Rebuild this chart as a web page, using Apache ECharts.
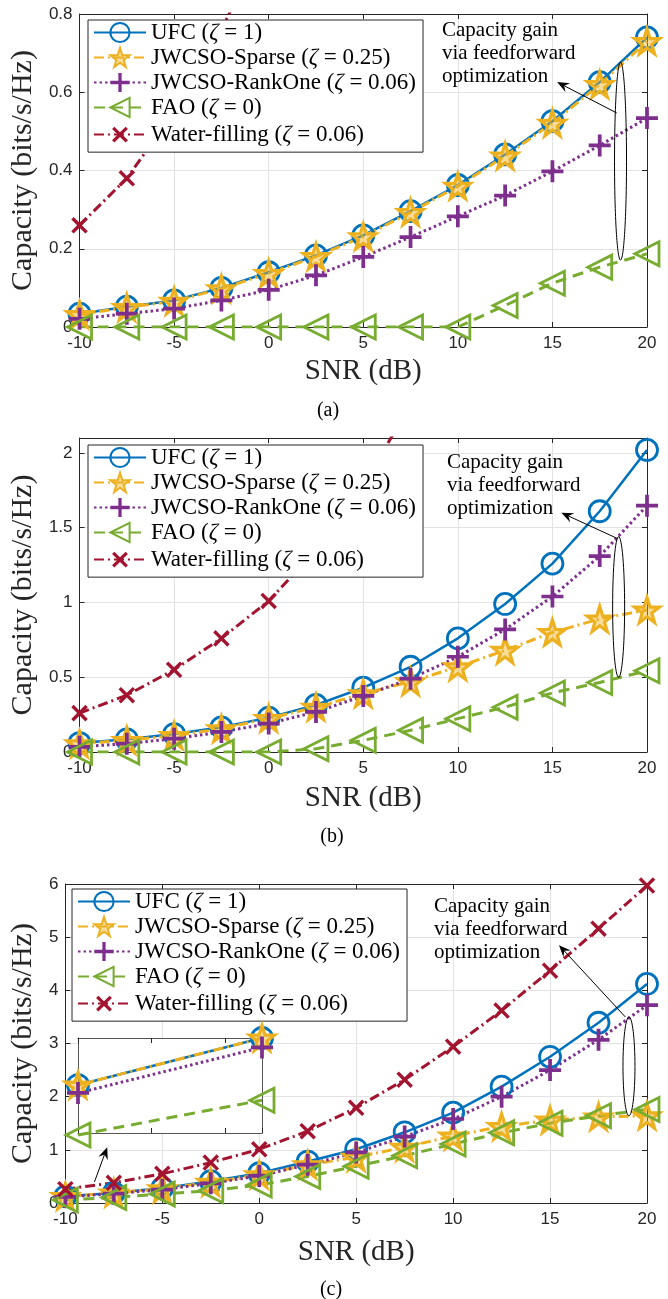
<!DOCTYPE html>
<html><head><meta charset="utf-8">
<script src="https://cdn.jsdelivr.net/npm/echarts@6/dist/echarts.min.js"></script>
<style>html,body{margin:0;padding:0;background:#fff}#c{width:668px;height:1299px}</style>
</head><body><div id="c"></div><script>
// ---------------- data ----------------
const snr = [-10, -7.5, -5, -2.5, 0, 2.5, 5, 7.5, 10, 12.5, 15, 17.5, 20];
const seriesNames = ['UFC (ζ = 1)', 'JWCSO-Sparse (ζ = 0.25)', 'JWCSO-RankOne (ζ = 0.06)', 'FAO (ζ = 0)', 'Water-filling (ζ = 0.06)'];
const waterFilling = [0.26, 0.38, 0.55, 0.76, 1.01, 1.35, 1.79, 2.32, 2.94, 3.62, 4.37, 5.16, 5.97];
// (a)
const ufcA     = [0.034, 0.052, 0.068, 0.100, 0.140, 0.183, 0.234, 0.296, 0.363, 0.441, 0.526, 0.626, 0.740];
const sparseA  = [0.032, 0.050, 0.066, 0.098, 0.137, 0.180, 0.231, 0.293, 0.360, 0.437, 0.521, 0.620, 0.730];
const rankOneA = [0.021, 0.034, 0.047, 0.068, 0.095, 0.132, 0.179, 0.230, 0.283, 0.336, 0.398, 0.464, 0.534];
const faoA     = [0, 0, 0, 0, 0, 0, 0, 0, 0, 0.055, 0.112, 0.153, 0.187];
// (b)
const ufcB     = [0.060, 0.085, 0.120, 0.165, 0.230, 0.315, 0.430, 0.570, 0.760, 0.990, 1.260, 1.610, 2.020];
const sparseB  = [0.055, 0.078, 0.110, 0.155, 0.225, 0.300, 0.390, 0.470, 0.570, 0.680, 0.800, 0.890, 0.950];
const rankOneB = [0.035, 0.056, 0.089, 0.134, 0.190, 0.268, 0.375, 0.490, 0.637, 0.820, 1.040, 1.310, 1.647];
const faoB     = [0, 0, 0, 0, 0, 0.022, 0.078, 0.145, 0.223, 0.300, 0.395, 0.465, 0.543];
// (c)
const ufcC     = [0.125, 0.190, 0.280, 0.410, 0.560, 0.780, 1.010, 1.330, 1.700, 2.190, 2.750, 3.390, 4.120];
const sparseC  = [0.125, 0.190, 0.270, 0.390, 0.530, 0.720, 0.860, 1.050, 1.260, 1.440, 1.560, 1.620, 1.640];
const rankOneC = [0.114, 0.177, 0.250, 0.370, 0.510, 0.720, 0.950, 1.250, 1.580, 2.000, 2.500, 3.070, 3.720];
const faoC     = [0.056, 0.104, 0.170, 0.230, 0.340, 0.500, 0.690, 0.890, 1.110, 1.320, 1.500, 1.640, 1.760];
// axes
const xRange = [-10, 20], xStep = 5;
const yMaxes = [0.8, 2.1, 6];
const ySteps = [0.2, 0.5, 1];
const insetX = [-10, -7.5];
const insetY = [0.0587, 0.19];
const captions = ['(a)', '(b)', '(c)'];
// annotations (data coordinates)
const gainEllipse = [[18.6, 0.171, 0.677], [18.5, 0.50, 1.44], [19.07, 1.64, 3.50]];
const gainArrow = [[18.4, 0.547, 15.25, 0.626], [18.4, 1.43, 15.47, 1.60], [18.88, 3.50, 15.46, 4.85]];
const insetArrow = [-8.5, 0.395, -7.84, 1.05];

// ---------------- style ----------------
const axisColor = '#262626', gridColor = '#e3e3e3';
const serif = 'Liberation Serif', sans = 'Liberation Sans';
const STAR = 'path://M50,0 L61.8,35.1 L98.5,35.1 L68.8,57 L79.4,91 L50,70 L20.6,91 L31.2,57 L1.5,35.1 L38.2,35.1 Z';
const PLUS = 'path://M8.3,0H11.7V8.3H20V11.7H11.7V20H8.3V11.7H0V8.3H8.3Z';
const styles = [
  {c: '#0072BD', dash: 'solid', w: 2.5, symbol: 'circle', size: 21, rot: 0, fill: 'rgba(0,0,0,0)', bw: 2.8},
  {c: '#EDB120', dash: [10, 4, 2, 4], w: 3, symbol: STAR, size: 25, rot: 0, fill: 'rgba(237,177,32,0.45)', bw: 3.2},
  {c: '#7E2F8E', dash: [2.5, 3], w: 3, symbol: PLUS, size: 22, rot: 0, fill: '#7E2F8E', bw: 0},
  {c: '#77AC30', dash: [11, 7], w: 3, symbol: 'triangle', size: 24, rot: 90, fill: 'rgba(0,0,0,0)', bw: 2.8},
  {c: '#A2142F', dash: [10, 4, 2, 4], w: 3, symbol: PLUS, size: 20, rot: 45, fill: '#A2142F', bw: 0}
];
const grids = [
  {left: 77, top: 14, width: 570, height: 313, nameGapX: 30, nameGapY: 37},
  {left: 77, top: 438, width: 570, height: 314, nameGapX: 32, nameGapY: 39},
  {left: 65, top: 884, width: 582, height: 319, nameGapX: 35, nameGapY: 25}
];
const legendPos = [[88, 20], [88, 445], [72, 889]];

const xAxes = [], yAxes = [], seriesList = [], legends = [];
function baseAxis(extra) {
  return Object.assign({
    type: 'value',
    axisLine: {show: true, onZero: false, lineStyle: {color: axisColor, width: 1}},
    axisTick: {show: true, inside: true, length: 5, lineStyle: {color: axisColor}},
    axisLabel: {show: false},
    splitLine: {show: false}
  }, extra);
}
grids.forEach((g, i) => {
  xAxes.push(baseAxis({gridIndex: i, position: 'bottom', min: xRange[0], max: xRange[1], interval: xStep,
    axisLabel: {show: true, fontFamily: sans, fontSize: 17, color: axisColor, margin: 8},
    splitLine: {show: true, lineStyle: {color: gridColor}},
    name: 'SNR (dB)', nameLocation: 'middle', nameGap: g.nameGapX,
    nameTextStyle: {fontFamily: serif, fontSize: 29, color: axisColor}}));
  xAxes.push(baseAxis({gridIndex: i, position: 'top', min: xRange[0], max: xRange[1], interval: xStep}));
  const step = ySteps[i];
  yAxes.push(baseAxis({gridIndex: i, position: 'left', min: 0, max: yMaxes[i], interval: step,
    axisLabel: {show: true, fontFamily: sans, fontSize: 17, color: axisColor, margin: 7,
      formatter: v => (Math.abs(v / step - Math.round(v / step)) < 1e-6 ? String(+v.toFixed(2)) : '')},
    splitLine: {show: true, lineStyle: {color: gridColor}},
    name: 'Capacity (bits/s/Hz)', nameLocation: 'middle', nameGap: g.nameGapY, nameRotate: 90,
    nameTextStyle: {fontFamily: serif, fontSize: 30, color: axisColor}}));
  yAxes.push(baseAxis({gridIndex: i, position: 'right', min: 0, max: yMaxes[i], interval: step}));
  legends.push({
    orient: 'vertical', left: legendPos[i][0], top: legendPos[i][1],
    itemWidth: 52, itemHeight: 24, itemGap: 2, padding: [1, 7, 4, 5],
    borderColor: axisColor, borderWidth: 1, backgroundColor: '#fff',
    selectedMode: false, data: seriesNames,
    formatter: n => n.replace('ζ', '{z|ζ}'),
    textStyle: {fontFamily: serif, fontSize: 23, color: '#000',
      rich: {z: {fontFamily: serif, fontSize: 23, fontStyle: 'italic', color: '#000'}}}
  });
});
// inset axes (index 6 / 7)
xAxes.push(baseAxis({gridIndex: 3, position: 'bottom', min: insetX[0], max: insetX[1], interval: 1, z: 6,
  axisLine: {show: true, onZero: false, lineStyle: {color: '#555', width: 1}}}));
xAxes.push(baseAxis({gridIndex: 3, position: 'top', min: insetX[0], max: insetX[1], interval: 1, z: 6,
  axisLine: {show: true, onZero: false, lineStyle: {color: '#555', width: 1}}}));
yAxes.push(baseAxis({gridIndex: 3, position: 'left', min: insetY[0], max: insetY[1], z: 6,
  axisLine: {show: true, onZero: false, lineStyle: {color: '#555', width: 1}}, axisTick: {show: false}}));
yAxes.push(baseAxis({gridIndex: 3, position: 'right', min: insetY[0], max: insetY[1], z: 6,
  axisLine: {show: true, onZero: false, lineStyle: {color: '#555', width: 1}}, axisTick: {show: false}}));

function makeSeries(k, axisIdx, xs, ys, extra) {
  const s = styles[k];
  return Object.assign({
    type: 'line', name: seriesNames[k], xAxisIndex: axisIdx, yAxisIndex: axisIdx,
    data: xs.map((x, j) => [x, ys[j]]),
    symbol: s.symbol, symbolSize: s.size, symbolRotate: s.rot, showAllSymbol: true,
    lineStyle: {color: s.c, width: s.w, type: s.dash},
    itemStyle: {color: s.fill, borderColor: s.c, borderWidth: s.bw},
    emphasis: {disabled: true}, silent: true
  }, extra || {});
}
const dataSets = [
  [ufcA, sparseA, rankOneA, faoA, waterFilling],
  [ufcB, sparseB, rankOneB, faoB, waterFilling],
  [ufcC, sparseC, rankOneC, faoC, waterFilling]
];
dataSets.forEach((set, g) => set.forEach((ys, k) => seriesList.push(makeSeries(k, 2 * g, snr, ys))));
[ufcC, sparseC, rankOneC, faoC].forEach((ys, k) =>
  seriesList.push(makeSeries(k, 6, snr.slice(0, 2), ys.slice(0, 2), {clip: false, z: 7})));

const option = {
  animation: false,
  backgroundColor: '#fff',
  grid: grids.map(g => ({left: g.left, top: g.top, width: g.width, height: g.height}))
    .concat([{left: 78, top: 1038, width: 184, height: 95, show: true, backgroundColor: '#fff', borderWidth: 0, z: 5}]),
  xAxis: xAxes, yAxis: yAxes, legend: legends, series: seriesList
};
const chart = echarts.init(document.getElementById('c'), null, {renderer: 'canvas'});
chart.setOption(option);

// ---------------- annotations ----------------
const P = (ai, x, y) => chart.convertToPixel({xAxisIndex: ai, yAxisIndex: ai}, [x, y]);
function arrow(p0, p1) {
  const dx = p1[0] - p0[0], dy = p1[1] - p0[1], L = Math.hypot(dx, dy);
  const ux = dx / L, uy = dy / L, nx = -uy, ny = ux, hl = 12, hw = 5;
  const base = [p1[0] - ux * hl, p1[1] - uy * hl];
  const notch = [p1[0] - ux * hl * 0.65, p1[1] - uy * hl * 0.65];
  return [
    {type: 'line', z: 100, silent: true, shape: {x1: p0[0], y1: p0[1], x2: notch[0], y2: notch[1]}, style: {stroke: '#000', lineWidth: 1}},
    {type: 'polygon', z: 100, silent: true, shape: {points: [p1, [base[0] + nx * hw, base[1] + ny * hw], notch, [base[0] - nx * hw, base[1] - ny * hw]]}, style: {fill: '#000'}}
  ];
}
const graphics = [];
const textPos = [[442, 19], [447, 451], [434, 895]];
const capPos = [[328, 411], [332, 837], [331, 1290]];
grids.forEach((g, i) => {
  const e = gainEllipse[i];
  const top = P(2 * i, e[0], e[2]), bot = P(2 * i, e[0], e[1]);
  graphics.push({type: 'ellipse', z: 100, silent: true,
    shape: {cx: top[0], cy: (top[1] + bot[1]) / 2, rx: 6, ry: Math.abs(bot[1] - top[1]) / 2},
    style: {fill: 'none', stroke: '#000', lineWidth: 1}});
  const a = gainArrow[i];
  graphics.push(...arrow(P(2 * i, a[0], a[1]), P(2 * i, a[2], a[3])));
  graphics.push({type: 'text', z: 100, silent: true, x: textPos[i][0], y: textPos[i][1],
    style: {text: 'Capacity gain\nvia feedforward\noptimization', fontFamily: serif, fontSize: 21, lineHeight: 23, fill: '#000'}});
  graphics.push({type: 'text', z: 100, silent: true, x: capPos[i][0], y: capPos[i][1],
    style: {text: captions[i], fontFamily: serif, fontSize: 20, fill: '#000', align: 'center', verticalAlign: 'middle'}});
});
graphics.push(...arrow(P(4, insetArrow[0], insetArrow[1]), P(4, insetArrow[2], insetArrow[3])));
chart.setOption({graphic: graphics});
</script></body></html>
